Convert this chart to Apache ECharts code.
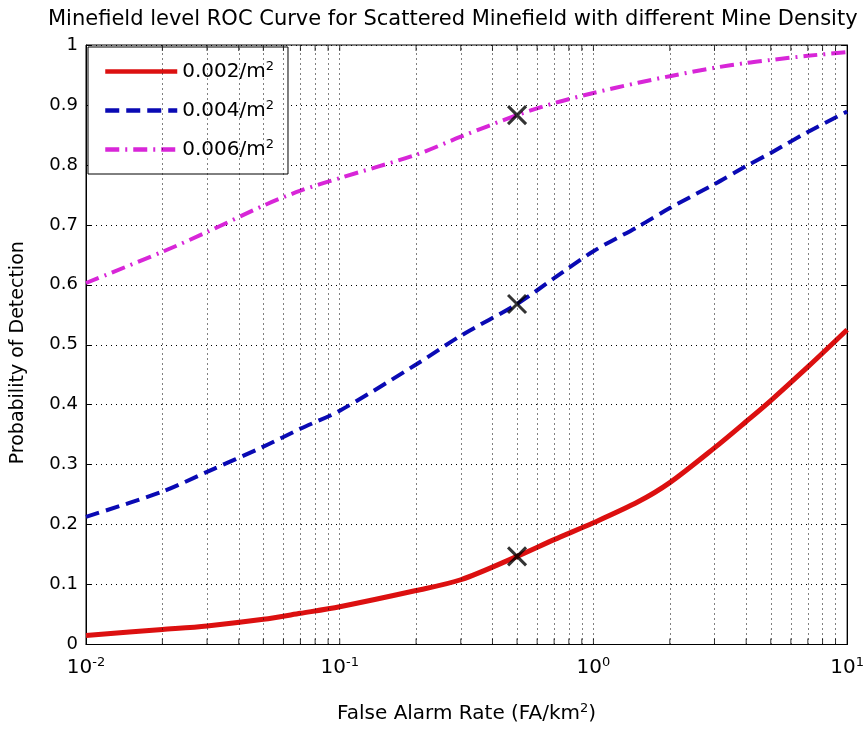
<!DOCTYPE html>
<html>
<head>
<meta charset="utf-8">
<script src="https://cdn.jsdelivr.net/npm/echarts@6/dist/echarts.min.js"></script>
<style>html,body{margin:0;padding:0;background:#fff;}#c{width:867px;height:729px;}</style>
</head>
<body>
<div id="c"></div>
<script>
// ---- data ----
const falseAlarm = [0.01,0.02,0.03,0.05,0.07,0.1,0.2,0.3,0.5,0.7,1,1.5,2,3,4,5,7,10];
const pd002 = [0.015,0.025,0.031,0.042,0.052,0.063,0.09,0.108,0.147,0.175,0.203,0.238,0.27,0.328,0.372,0.407,0.463,0.525];
const pd004 = [0.213,0.255,0.288,0.33,0.36,0.39,0.467,0.515,0.568,0.611,0.656,0.697,0.728,0.768,0.798,0.82,0.855,0.889];
const pd006 = [0.603,0.655,0.688,0.732,0.757,0.778,0.817,0.847,0.883,0.903,0.92,0.937,0.948,0.962,0.97,0.975,0.982,0.988];
const seriesNames = ['0.002/m2','0.004/m2','0.006/m2'];
const markerX = [0.5,0.5,0.5];
const markerY = [0.147,0.568,0.883];
const minorGridX = [0.02,0.03,0.04,0.05,0.06,0.07,0.08,0.09,0.1,0.2,0.3,0.4,0.5,0.6,0.7,0.8,0.9,1,2,3,4,5,6,7,8,9];
const xMin = 0.01, xMax = 10, yMin = 0, yMax = 1, yStep = 0.1;
const titleText = 'Minefield level ROC Curve for Scattered Minefield with different Mine Density';
const xTitle = 'False Alarm Rate (FA/km{s|2})';
const yTitle = 'Probability of Detection';

const FONT = "'DejaVu Sans', sans-serif";
const pair = (xs, ys) => xs.map((x, i) => [x, ys[i]]);

const chart = echarts.init(document.getElementById('c'), null, {renderer: 'canvas'});
const supRich = {
  b: {fontFamily: FONT, fontSize: 20, color: '#000'},
  s: {fontFamily: FONT, fontSize: 13, color: '#000', verticalAlign: 'bottom', padding: [0, 0, 10, 0]}
};
chart.setOption({
  animation: false,
  backgroundColor: '#fff',
  title: {
    text: titleText, left: 43, top: 4,
    textStyle: {fontFamily: FONT, fontSize: 21, fontWeight: 'normal', color: '#000'}
  },
  grid: {left: 86, right: 15, top: 45, bottom: 84, show: true, borderColor: '#000', borderWidth: 1, containLabel: false},
  legend: {
    orient: 'vertical', left: 88, top: 47,
    data: seriesNames,
    itemWidth: 72, itemHeight: 14, itemGap: 14,
    padding: [12, 14, 12, 15],
    backgroundColor: '#fff', borderColor: '#000', borderWidth: 1,
    itemStyle: {opacity: 0},
    lineStyle: {width: 4.5},
    formatter: n => n.replace('/m2', '/m{s|2}'),
    textStyle: {fontFamily: FONT, fontSize: 20, color: '#000', lineHeight: 25,
      rich: {s: {fontFamily: FONT, fontSize: 13, color: '#000', verticalAlign: 'bottom', padding: [0,0,11,0]}}}
  },
  xAxis: [{
    type: 'log', logBase: 10, min: xMin, max: xMax,
    name: xTitle, nameLocation: 'middle', nameGap: 58,
    nameTextStyle: {fontFamily: FONT, fontSize: 20, color: '#000', rich: {s: {fontFamily: FONT, fontSize: 13, color: '#000', verticalAlign: 'bottom', padding: [0,0,10,0]}}},
    axisLine: {show: true, lineStyle: {color: '#000', width: 1}},
    axisTick: {show: false},
    splitLine: {show: false},
    axisLabel: {
      margin: 12, color: '#000',
      formatter: v => '{b|10}{s|' + Math.round(Math.log10(v)) + '}',
      rich: supRich
    }
  }],
  yAxis: [{
    type: 'value', min: yMin, max: yMax, interval: yStep,
    name: yTitle, nameLocation: 'middle', nameGap: 58,
    nameTextStyle: {fontFamily: FONT, fontSize: 19, color: '#000', padding: [0, 16, 0, 0]},
    axisLine: {show: true, lineStyle: {color: '#000'}},
    axisTick: {show: true, inside: true, length: 6, lineStyle: {color: '#000'}},
    axisLabel: {fontFamily: FONT, fontSize: 18, color: '#000', margin: 8, formatter: v => String(+v.toFixed(1))},
    splitLine: {show: true, lineStyle: {color: '#000', type: [1, 4], width: 1}}
  }, {
    type: 'value', min: yMin, max: yMax, interval: yStep, position: 'right',
    axisLine: {show: true, lineStyle: {color: '#000'}},
    axisTick: {show: true, inside: true, length: 6, lineStyle: {color: '#000'}},
    axisLabel: {show: false}, splitLine: {show: false}
  }],
  series: [
    {
      name: 'gridlines', type: 'line', data: [], silent: true,
      markLine: {
        silent: true, symbol: 'none', label: {show: false},
        lineStyle: {color: '#000', type: [1, 4], width: 1},
        data: minorGridX.map(x => ({xAxis: x}))
      }
    },
    {
      name: 'ticksBottom', type: 'scatter', silent: true, z: 5,
      symbol: 'rect', symbolSize: [1, 6], symbolOffset: [0, -3],
      itemStyle: {color: '#000'},
      data: minorGridX.map(x => [x, yMin])
    },
    {
      name: 'ticksTop', type: 'scatter', silent: true, z: 5,
      symbol: 'rect', symbolSize: [1, 6], symbolOffset: [0, 3],
      itemStyle: {color: '#000'},
      data: minorGridX.map(x => [x, yMax])
    },
    {
      name: seriesNames[0], type: 'line', data: pair(falseAlarm, pd002), smooth: 0.3,
      showSymbol: false, symbol: 'none', z: 3,
      lineStyle: {color: '#dc1010', width: 5}, itemStyle: {color: '#dc1010'}
    },
    {
      name: seriesNames[1], type: 'line', data: pair(falseAlarm, pd004), smooth: 0.3,
      showSymbol: false, symbol: 'none', z: 3,
      lineStyle: {color: '#0a0ab4', width: 4, type: [14, 7]}, itemStyle: {color: '#0a0ab4'}
    },
    {
      name: seriesNames[2], type: 'line', data: pair(falseAlarm, pd006), smooth: 0.3,
      showSymbol: false, symbol: 'none', z: 3,
      lineStyle: {color: '#d826d8', width: 4, type: [14, 6, 2, 6]}, itemStyle: {color: '#d826d8'}
    },
    {
      name: 'markers', type: 'scatter', z: 6, silent: true,
      symbol: 'path://M0,0L10,10M10,0L0,10', symbolSize: 18,
      itemStyle: {color: 'rgba(0,0,0,0)', borderColor: '#000', borderWidth: 3},
      data: pair(markerX, markerY)
    }
  ]
});
</script>
</body>
</html>
